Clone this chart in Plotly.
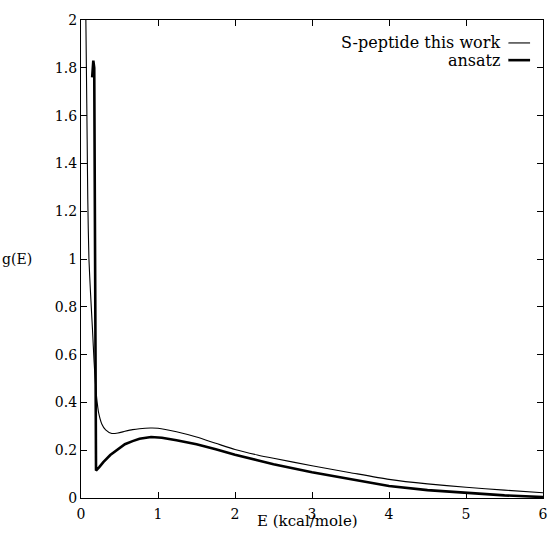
import plotly.graph_objects as go

# S-peptide this work (thin line)
E_work = [0.058, 0.07, 0.08, 0.088, 0.103, 0.125, 0.15, 0.17, 0.19, 0.21, 0.23, 0.27, 0.32, 0.40, 0.48, 0.57,
          0.67, 0.76, 0.9, 1.0, 1.24, 1.5, 1.75, 2.0, 2.29, 2.5, 3.0, 3.5, 4.0, 4.5, 5.0, 5.5, 6.0]
g_work = [2.15, 1.8, 1.5, 1.25, 1.0, 0.85, 0.70, 0.57, 0.47, 0.40, 0.355, 0.31, 0.285, 0.27, 0.272, 0.279,
          0.286, 0.290, 0.293, 0.292, 0.277, 0.255, 0.229, 0.203, 0.18, 0.166, 0.135, 0.106, 0.078, 0.059, 0.045, 0.033, 0.022]

# ansatz (thick line)
E_ansatz = [0.145, 0.16, 0.172, 0.185, 0.195, 0.24, 0.29, 0.38, 0.48, 0.57, 0.67, 0.76, 0.91, 1.05, 1.24, 1.5,
            1.75, 2.0, 2.29, 2.5, 3.0, 3.5, 4.0, 4.5, 5.0, 5.5, 6.0]
g_ansatz = [1.76, 1.83, 1.80, 1.0, 0.115, 0.13, 0.15, 0.18, 0.205, 0.225, 0.238, 0.248, 0.255, 0.252, 0.242, 0.225,
            0.204, 0.181, 0.158, 0.141, 0.108, 0.079, 0.050, 0.033, 0.021, 0.011, 0.004]

x_ticks = [0, 1, 2, 3, 4, 5, 6]
y_ticks = [0, 0.2, 0.4, 0.6, 0.8, 1, 1.2, 1.4, 1.6, 1.8, 2]
y_tick_labels = ["0", "0.2", "0.4", "0.6", "0.8", "1", "1.2", "1.4", "1.6", "1.8", "2"]
series_names = ["S-peptide this work", "ansatz"]

FONT = "DejaVu Serif"

fig = go.Figure()
fig.add_trace(go.Scatter(x=E_work, y=g_work, mode="lines", name=series_names[0],
                         line=dict(color="black", width=1.1, shape="spline", smoothing=0.6),
                         showlegend=False, cliponaxis=True))
fig.add_trace(go.Scatter(x=E_ansatz, y=g_ansatz, mode="lines", name=series_names[1],
                         line=dict(color="black", width=2.6), showlegend=False))

axis_common = dict(showline=True, linecolor="black", linewidth=1.2, mirror="ticks",
                   ticks="inside", ticklen=6, tickcolor="black", showgrid=False, zeroline=False,
                   ticklabeloverflow="allow",
                   tickfont=dict(family=FONT, size=14, color="black"))
fig.update_xaxes(range=[0, 6], tickvals=x_ticks, ticklabelstandoff=3, **axis_common)
fig.update_yaxes(range=[0, 2], tickvals=y_ticks, ticktext=y_tick_labels, **axis_common)

fig.update_layout(
    width=552, height=537,
    margin=dict(l=81, r=4, t=20, b=39),
    plot_bgcolor="white", paper_bgcolor="white",
    font=dict(family=FONT, size=14, color="black"),
)
fig.add_annotation(text="g(E)", xref="paper", yref="paper", x=-0.139, y=0.5, xanchor="center", yanchor="middle",
                   showarrow=False, font=dict(family=FONT, size=14))
fig.add_annotation(text="E (kcal/mole)", xref="paper", yref="paper", x=0.49, y=-0.048, xanchor="center",
                   yanchor="middle", showarrow=False, font=dict(family=FONT, size=15))

# legend (text right-aligned with sample line on the right, gnuplot style)
leg_y = [0.952, 0.916]
widths = [1.1, 2.6]
for name, yy, w in zip(series_names, leg_y, widths):
    fig.add_annotation(text=name, xref="paper", yref="paper", x=0.912, y=yy, xanchor="right", yanchor="middle",
                       showarrow=False, font=dict(family=FONT, size=16))
    fig.add_shape(type="line", xref="paper", yref="paper", x0=0.925, x1=0.972, y0=yy, y1=yy,
                  line=dict(color="black", width=w))

fig.write_html("out.html", config={"displayModeBar": False},
               post_script="document.body.style.margin='0';")
